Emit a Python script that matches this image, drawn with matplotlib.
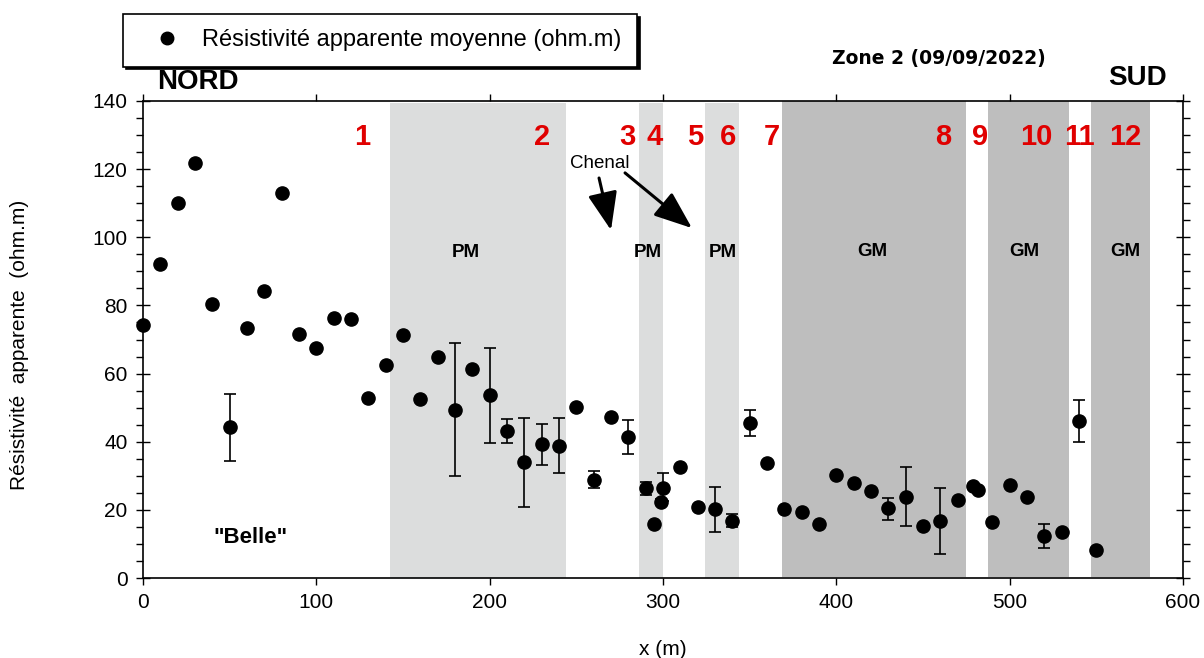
import numpy as np
import matplotlib
matplotlib.use("Agg")
import matplotlib.pyplot as plt
from matplotlib.ticker import MultipleLocator

plt.rcParams['font.family'] = ['Liberation Sans', 'DejaVu Sans']

# Mean apparent resistivity along the profile
x_pos = [0, 10, 20, 30, 40, 50, 60, 70, 80, 90, 100, 110, 120, 130, 140, 150,
         160, 170, 180, 190, 200, 210, 220, 230, 240, 250, 260, 270, 280, 290,
         295, 299, 300, 310, 320, 330, 340, 350, 360, 370, 380, 390, 400, 410,
         420, 430, 440, 450, 460, 470, 479, 481.5, 490, 500, 510, 520, 530,
         540, 550]
rho = [74.3, 92.3, 110.0, 121.9, 80.3, 44.3, 73.4, 84.1, 112.9, 71.7, 67.6,
       76.2, 76.1, 52.7, 62.4, 71.2, 52.4, 65.0, 49.4, 61.3, 53.6, 43.0, 33.9,
       39.3, 38.8, 50.2, 28.9, 47.2, 41.4, 26.3, 15.9, 22.3, 26.3, 32.5, 20.8,
       20.2, 16.8, 45.4, 33.7, 20.3, 19.4, 15.9, 30.3, 28.0, 25.4, 20.4, 23.9,
       15.2, 16.8, 23.0, 27.0, 25.9, 16.5, 27.3, 23.8, 12.4, 13.6, 46.0, 8.1]

# Min / max range at the stations that have one
err_x = [50, 180, 200, 210, 220, 230, 240, 260, 280, 290, 300, 299, 330, 340,
         350, 430, 440, 460, 520, 540]
err_lo = [34.2, 29.9, 39.6, 39.5, 20.9, 33.1, 30.8, 26.3, 36.4, 24.4, 22.5,
          21.3, 13.6, 14.9, 41.7, 17.1, 15.2, 7.0, 8.9, 39.8]
err_hi = [54.1, 69.0, 67.5, 46.6, 46.9, 45.3, 46.9, 31.5, 46.4, 28.2, 30.7,
          23.3, 26.7, 18.7, 49.2, 23.6, 32.6, 26.4, 15.9, 52.2]

# Shaded facies zones (start, end)
pm_zones = [(142.5, 244.0), (286.2, 300.0), (324.2, 343.8)]
pm_label_x = [186.3, 291.3, 334.6]
gm_zones = [(368.7, 474.8), (487.5, 534.2), (546.9, 581.0)]
gm_label_x = [420.6, 508.3, 566.5]

# Numbered markers along the profile
num_labels = ['1', '2', '3', '4', '5', '6', '7', '8', '9', '10', '11', '12']
num_x = [126.3, 230.2, 279.2, 295.4, 318.5, 337.5, 362.9, 461.5, 482.9,
         515.2, 540.0, 566.5]

fig = plt.figure(figsize=(12.04, 6.58), dpi=100)
ax = fig.add_axes([143 / 1204, 80 / 658, 1040 / 1204, 477 / 658])

for a, b in pm_zones:
    ax.axvspan(a, b, ymin=0, ymax=0.995, color='#dcdddd', lw=0, zorder=0)
for a, b in gm_zones:
    ax.axvspan(a, b, ymin=0.002, ymax=1.0, color='#bebebe', lw=0, zorder=0)

for xl in pm_label_x:
    ax.text(xl, 95.5, 'PM', ha='center', va='center', fontsize=13.5,
            fontweight='bold')
for xl in gm_label_x:
    ax.text(xl, 95.8, 'GM', ha='center', va='center', fontsize=13.5,
            fontweight='bold')
for lab, xl in zip(num_labels, num_x):
    ax.text(xl, 129.5, lab, ha='center', va='center', fontsize=21,
            fontweight='bold', color='#e00000')

# Error bars then markers
lookup = dict(zip(x_pos, rho))
ey = np.array([lookup[v] for v in err_x])
yerr = np.vstack([ey - np.array(err_lo), np.array(err_hi) - ey])
ax.errorbar(err_x, ey, yerr=yerr, fmt='none', ecolor='black', elinewidth=1.2,
            capsize=4, capthick=1.2, zorder=3, clip_on=False)
ax.plot(x_pos, rho, 'o', color='black', markersize=9.5, linestyle='none',
        zorder=4, clip_on=False,
        label='Résistivité apparente moyenne (ohm.m)')

# Channel annotation
ax.text(263.7, 121.8, 'Chenal', ha='center', va='center', fontsize=13.5)
arrow_kw = dict(arrowstyle='-|>,head_length=0.9,head_width=0.35', lw=2.2,
                color='black', mutation_scale=26, shrinkA=0, shrinkB=0)
ax.annotate('', xy=(270.0, 102.1), xytext=(263.1, 117.4), arrowprops=arrow_kw)
ax.annotate('', xy=(316.7, 102.7), xytext=(278.1, 118.9), arrowprops=arrow_kw)

ax.text(61.7, 12.0, '"Belle"', ha='center', va='center', fontsize=16,
        fontweight='bold')

ax.text(31.7, 145.6, 'NORD', ha='center', va='center', fontsize=20,
        fontweight='bold', clip_on=False)
ax.text(573.5, 146.8, 'SUD', ha='center', va='center', fontsize=20,
        fontweight='bold', clip_on=False)
ax.text(459.2, 152.6, 'Zone 2 (09/09/2022)', ha='center', va='center',
        fontsize=13.5, fontweight='bold', family='DejaVu Sans', clip_on=False)

ax.set_xlim(0, 600)
ax.set_ylim(0, 140)
ax.xaxis.set_major_locator(MultipleLocator(100))
ax.yaxis.set_major_locator(MultipleLocator(20))
ax.yaxis.set_minor_locator(MultipleLocator(5))
ax.tick_params(axis='x', which='major', direction='out', length=5, width=1,
               top=True, labeltop=False, labelsize=15, pad=6)
ax.tick_params(axis='y', which='major', direction='inout', length=10, width=1,
               right=True, labelright=False, labelsize=15, pad=6)
ax.tick_params(axis='y', which='minor', direction='out', length=5, width=1,
               right=True)
for s in ax.spines.values():
    s.set_linewidth(1.2)

ax.set_xlabel('x (m)', fontsize=15, labelpad=20)
fig.text(20 / 1204, 1 - 345 / 658, 'Résistivité  apparente  (ohm.m)',
         rotation=90, ha='center', va='center', fontsize=15)

leg = ax.legend(loc='upper left', bbox_to_anchor=(123 / 1204, 1 - 14 / 658),
                bbox_transform=fig.transFigure, fontsize=17, frameon=True,
                fancybox=False, shadow={'color': 'black', 'alpha': 1},
                edgecolor='black', framealpha=1, borderpad=0.65,
                handletextpad=0.3, handlelength=2.4, borderaxespad=0)
leg.get_frame().set_linewidth(1.2)
for h in leg.legend_handles:
    h.set_markersize(9)

fig.savefig('out.png', dpi=100)
